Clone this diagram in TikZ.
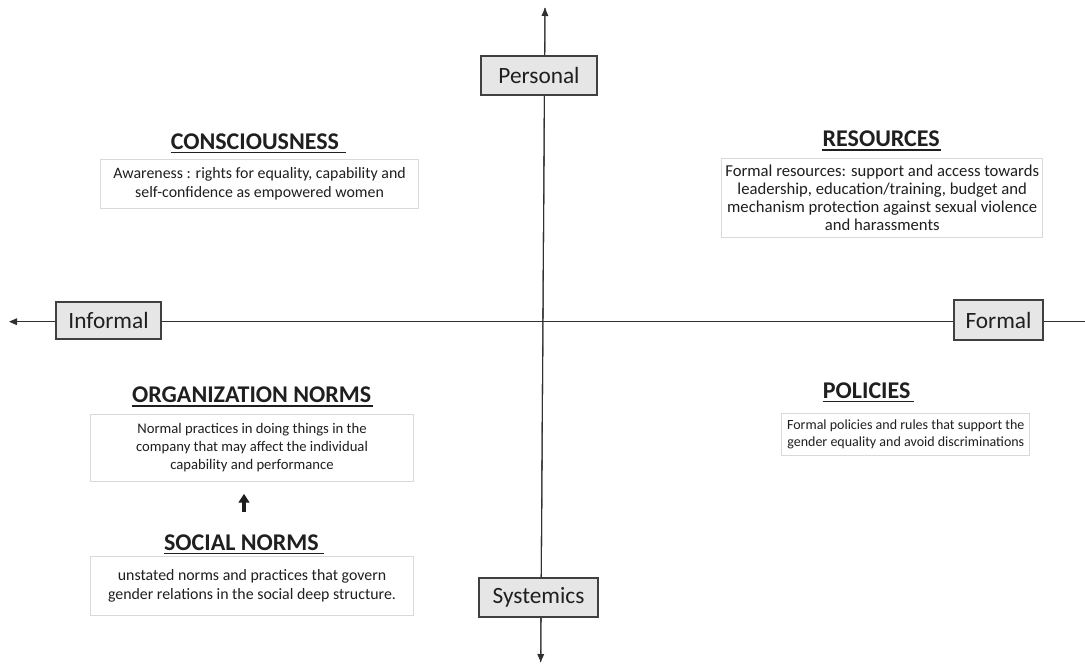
\documentclass[tikz,border=0pt]{standalone}
\usepackage{fontspec}
\setmainfont{Carlito}
\usetikzlibrary{arrows.meta,calc}
\definecolor{lblgray}{HTML}{E7E6E6}
\definecolor{descgray}{HTML}{D9D9D9}
\definecolor{txt}{HTML}{1F1F1F}
\definecolor{axisc}{HTML}{303030}
\begin{document}
\begin{tikzpicture}[x=0.75pt,y=-0.75pt,
  axis/.style={line width=0.8pt, draw=axisc},
  tipend/.style={-{Triangle[length=6pt,width=5pt]}},
  lbl/.style={draw=black!75, line width=1.1pt, fill=lblgray, inner sep=0pt,
    font=\fontsize{17.5}{20}\selectfont, text=txt},
  desc/.style={draw=descgray, line width=0.75pt, fill=white, inner sep=0pt,
    align=center, text=txt},
  head/.style={inner sep=0pt, anchor=base, font=\bfseries\fontsize{18}{21}\selectfont, text=txt},
  uline/.style={line width=1.1pt, draw=txt},
  bigarrow/.style={line width=2.4pt, draw=txt, -{Triangle[length=6.5pt,width=8pt]}}
]
\useasboundingbox (0,0) rectangle (1085,664);

% axes (free ends as coordinates)
\coordinate (top) at (545,8);
\coordinate (bot) at (540.7,662);
\coordinate (left) at (9,321.7);
\coordinate (right) at (1085,321.7);
\draw[axis,tipend] (bot) -- (top);
\draw[axis,tipend] (right) -- (left);
\draw[axis,tipend] (top) -- (bot);

% axis labels
\node[lbl, minimum width=87pt, minimum height=29.25pt] (personal) at (539,75.5) {Personal};
\node[lbl, minimum width=89.25pt, minimum height=29.25pt] (systemics) at (538.5,597.5) {Systemics};
\node[lbl, minimum width=78.75pt, minimum height=27.75pt] (informal) at (108.5,320.5) {Informal};
\node[lbl, minimum width=66.75pt, minimum height=30pt] (formal) at (998.5,320) {Formal};

% CONSCIOUSNESS
\node[head] (hC) at (254.9,149.3) {CONSCIOUSNESS};
\draw[uline] ($(hC.base west)+(0,3)$) -- ($(hC.base east)+(7,3)$);
\node[desc, minimum width=238.2pt, minimum height=36.75pt, font=\fontsize{11.9}{13.7}\selectfont] (cons) at (259.5,183.8)
  {Awareness : rights for equality, capability and\\self-confidence as empowered women};

% RESOURCES
\node[head] (hR) at (881.2,146.7) {RESOURCES};
\draw[uline] ($(hR.base west)+(0,3.3)$) -- ($(hR.base east)+(1,3.3)$);
\node[desc, minimum width=240.75pt, minimum height=59.25pt, font=\fontsize{12.5}{13.4}\selectfont] (res) at (882.2,197.8)
  {Formal resources: support and access towards\\leadership, education/training, budget and\\mechanism protection against sexual violence\\and harassments};

% ORGANIZATION NORMS
\node[head] (hO) at (251.7,402.7) {ORGANIZATION NORMS};
\draw[uline] ($(hO.base west)+(0,3.3)$) -- ($(hO.base east)+(1.5,3.3)$);
\node[desc, minimum width=242pt, minimum height=50.8pt, font=\fontsize{11}{13.4}\selectfont] (org) at (252,447.9)
  {Normal practices in doing things in the\\company that may affect the individual\\capability and performance};

% SOCIAL NORMS
\node[head] (hS) at (241.4,550.7) {SOCIAL NORMS};
\draw[uline] ($(hS.base west)+(0,2.8)$) -- ($(hS.base east)+(5,2.8)$);
\node[desc, minimum width=242pt, minimum height=43.7pt, font=\fontsize{11.9}{13.8}\selectfont] (soc) at (252,585.9)
  {unstated norms and practices that govern\\gender relations in the social deep structure.};

% arrow social -> organization
\coordinate (ax) at (244,0);
\draw[bigarrow] ($(hS.north -| ax)+(0,-23)$) -- ($(org.south -| ax)+(0,11.6)$);

% POLICIES
\node[head] (hP) at (866.7,398.3) {POLICIES};
\draw[uline] ($(hP.base west)+(0,3.3)$) -- ($(hP.base east)+(3.5,3.3)$);
\node[desc, minimum width=186.2pt, minimum height=31.3pt, font=\fontsize{10.5}{13}\selectfont] (pol) at (905.8,434.2)
  {Formal policies and rules that support the\\gender equality and avoid discriminations};
\end{tikzpicture}
\end{document}
